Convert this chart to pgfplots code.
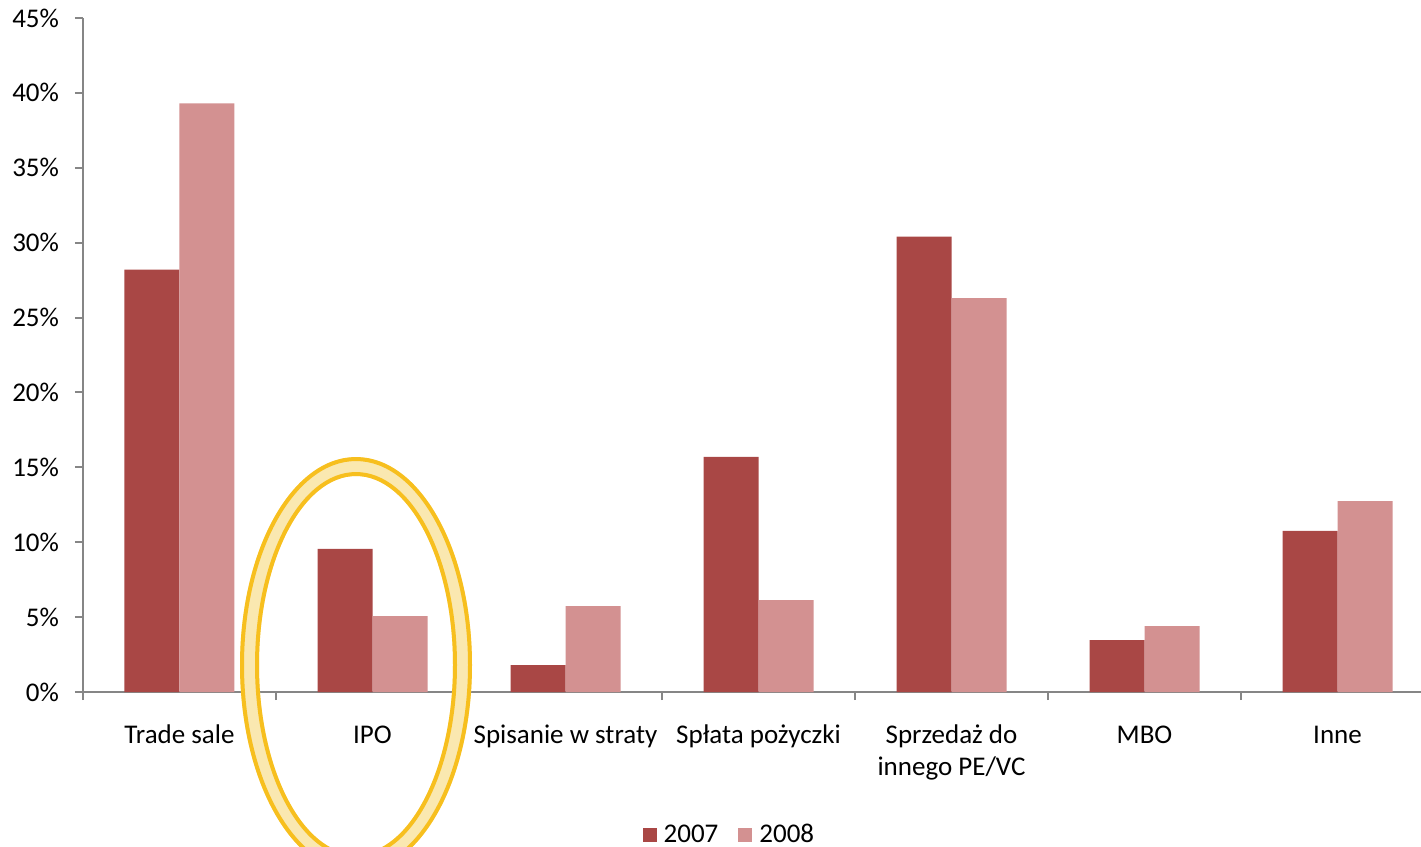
\documentclass[border=0pt]{standalone}
\usepackage{pgfplots}
\pgfplotsset{compat=1.18}
\usepackage{fontspec}
\setmainfont{Carlito}
\definecolor{c07}{RGB}{169,71,69}
\definecolor{c08}{RGB}{211,145,145}
\definecolor{axgray}{RGB}{134,134,134}
\definecolor{ringline}{RGB}{247,191,30}
\definecolor{ringfill}{RGB}{250,232,176}
\begin{document}
\begin{tikzpicture}
\useasboundingbox (-41.5pt,-77.5pt) rectangle (669pt,346pt);
\clip (-41.5pt,-77.5pt) rectangle (669pt,346pt);
\begin{axis}[
  scale only axis, width=669pt, height=337pt,
  xmin=-0.5, xmax=6.4326, ymin=0, ymax=45,
  ytick={0,5,...,45},
  /pgf/number format/assume math mode=true,
  yticklabel={\pgfmathprintnumber{\tick}\%},
  xtick={-0.5,0.5,...,5.5},
  xticklabels={\strut Trade sale, \strut IPO, \strut Spisanie w straty, \strut Spłata pożyczki, {\strut Sprzedaż do\\innego PE/VC}, \strut MBO, \strut Inne},
  x tick label style={align=center, xshift=48.25pt, yshift=-7pt, font=\fontsize{13.5}{16}\selectfont},
  y tick label style={xshift=-4.5pt, font=\fontsize{13.5}{16}\selectfont},
  axis x line=bottom, axis y line=left,
  axis line style={axgray, line width=1pt, -},
  tick style={axgray, line width=1pt},
  tick align=outside, major tick length=4pt,
  ybar=0pt, bar width=27.5pt,
  legend style={at={(axis description cs:0.4135,-0.212)}, anchor=west, draw=none, fill=none,
    legend columns=2, font=\fontsize{13.5}{16}\selectfont,
    /tikz/every odd column/.append style={column sep=1.5pt},
    /tikz/every even column/.append style={column sep=8pt}},
  legend image code/.code={\fill[#1] (0pt,-3.5pt) rectangle (7pt,3.5pt);},
]
\addplot[fill=c07, draw=none] coordinates {(0,28.2) (1,9.55) (2,1.8) (3,15.7) (4,30.4) (5,3.47) (6,10.75)};
\addplot[fill=c08, draw=none] coordinates {(0,39.3) (1,5.07) (2,5.74) (3,6.14) (4,26.3) (5,4.4) (6,12.75)};
\legend{2007,2008}
\coordinate (E) at (axis cs:0.9145,1.8);
\end{axis}
\fill[ringfill, even odd rule] (E) ellipse [x radius=58pt, y radius=104pt] (E) ellipse [x radius=48.5pt, y radius=94.5pt];
\draw[ringline, line width=2pt] (E) ellipse [x radius=57pt, y radius=103pt];
\draw[ringline, line width=2pt] (E) ellipse [x radius=49.5pt, y radius=95.5pt];
\end{tikzpicture}
\end{document}
